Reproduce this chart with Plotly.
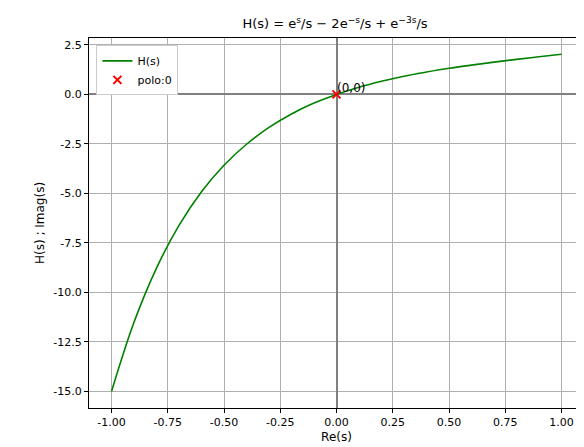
import plotly.graph_objects as go

# values
s_vals = [-1.0, -0.9, -0.8, -0.7, -0.6, -0.5, -0.4, -0.3, -0.2, -0.1, 0.0,
          0.1, 0.2, 0.3, 0.4, 0.5, 0.6, 0.7, 0.8, 0.9, 1.0]
h_vals = [-15.02, -11.52, -8.78, -6.62, -4.92, -3.58, -2.52, -1.67, -0.99, -0.44, 0.0,
          0.36, 0.66, 0.92, 1.13, 1.32, 1.48, 1.63, 1.77, 1.90, 2.03]
pole_x = [0]
pole_y = [0]
x_ticks = [-1.0, -0.75, -0.5, -0.25, 0.0, 0.25, 0.5, 0.75, 1.0]
y_ticks = [2.5, 0.0, -2.5, -5.0, -7.5, -10.0, -12.5, -15.0]

fig = go.Figure()
fig.add_trace(go.Scatter(x=s_vals, y=h_vals, mode='lines', name='H(s)',
                         line=dict(color='green', width=1.6, shape='spline')))
fig.add_trace(go.Scatter(x=pole_x, y=pole_y, mode='markers', name='polo:0',
                         marker=dict(color='red', symbol='x-thin', size=8,
                                     line=dict(color='red', width=2))))
fig.add_annotation(x=0, y=0, text='(0,0)', showarrow=False, xanchor='left',
                   yanchor='bottom', xshift=-2, yshift=-3,
                   font=dict(size=12, color='black'))

axis = dict(showgrid=True, gridcolor='#b0b0b0', gridwidth=1, zeroline=True,
            zerolinecolor='gray', zerolinewidth=1.5, showline=True, mirror=True,
            linecolor='black', linewidth=1, ticks='outside', ticklen=4,
            tickcolor='black', tickfont=dict(size=11, color='black'),
            automargin=False)
fig.update_xaxes(**axis, range=[-1.1, 1.1], tickvals=x_ticks,
                 ticktext=[f'{v:.2f}' for v in x_ticks],
                 title=dict(text='Re(s)', font=dict(size=12), standoff=4))
fig.update_yaxes(**axis, range=[-15.85, 2.85], tickvals=y_ticks,
                 ticktext=[f'{v:.1f}' for v in y_ticks],
                 title=dict(text='H(s) ; Imag(s)', font=dict(size=12), standoff=6))
fig.update_layout(
    width=584, height=447,
    margin=dict(l=81, r=8, t=30, b=47, autoexpand=False),
    plot_bgcolor='white', paper_bgcolor='white',
    font=dict(family='DejaVu Sans', color='black'),
    title=dict(text='H(s) = e<sup>s</sup>/s − 2e<sup>−s</sup>/s + e<sup>−3s</sup>/s',
               x=0.56, xanchor='center', y=0.975, font=dict(size=13)),
    legend=dict(x=0.015, y=0.98, xanchor='left', yanchor='top',
                bgcolor='white', bordercolor='#cccccc', borderwidth=1,
                font=dict(size=11)),
)
fig.write_html('out.html')
